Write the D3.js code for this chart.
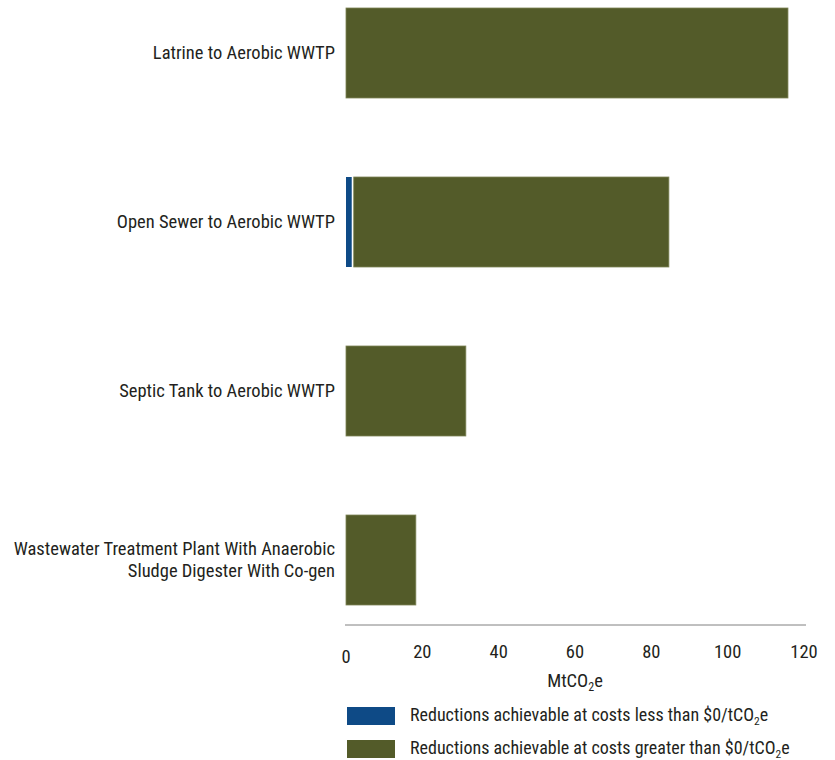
<!DOCTYPE html>
<html><head><meta charset="utf-8">
<script src="https://cdn.jsdelivr.net/npm/d3@7"></script>
<style>body{margin:0;background:#fff}text{font-family:"Liberation Sans Narrow","Roboto Condensed","DejaVu Sans Condensed",sans-serif;fill:#231f20}</style>
</head><body><svg id="c" width="835" height="760"></svg>
<script>
const categories = [["Latrine to Aerobic WWTP"],["Open Sewer to Aerobic WWTP"],["Septic Tank to Aerobic WWTP"],["Wastewater Treatment Plant With Anaerobic","Sludge Digester With Co-gen"]];
const lessThanZero = [0, 1.5, 0, 0];
const greaterThanZero = [115.8, 83.1, 31.4, 18.3];
const ticks = [0,20,40,60,80,100,120];
const legendLabels = ["Reductions achievable at costs less than $0/tCO","Reductions achievable at costs greater than $0/tCO"];
const colors = ["#0e4a86","#535b29"];

const svg = d3.select("#c");
const x = d3.scaleLinear().domain([0,120]).range([346,804]);
const y = d3.scaleBand().domain(d3.range(categories.length)).range([8,605]).paddingInner(0.4675).paddingOuter(0);

const g = svg.append("g");
categories.forEach((c,i)=>{
  const y0 = y(i), h = y.bandwidth();
  if (lessThanZero[i] > 0) {
    g.append("rect").attr("x",x(0)).attr("y",y0).attr("width",x(lessThanZero[i])-x(0)).attr("height",h).attr("fill",colors[0]);
  }
  const s = lessThanZero[i] > 0 ? x(lessThanZero[i]) + 2 : x(0);
  g.append("rect").attr("x",s).attr("y",y0).attr("width",x(lessThanZero[i]+greaterThanZero[i])-s).attr("height",h)
    .attr("fill",colors[1]).attr("stroke","#7d8356").attr("stroke-width",0.8);
  const t = g.append("text").attr("text-anchor","end").attr("font-size",18.5);
  const cy = y0 + h/2;
  c.forEach((line,j)=>{
    t.append("tspan").attr("x",335).attr("y",cy + (j-(c.length-1)/2)*22 + 6).text(line);
  });
});

// axis
const axisY = 625;
svg.append("line").attr("x1",345).attr("x2",806).attr("y1",axisY).attr("y2",axisY).attr("stroke","#808080").attr("stroke-width",1);
svg.selectAll(".tk").data(ticks).enter().append("text").attr("class","tk")
  .attr("x",d=>x(d)).attr("y",d=>d===0?663:658).attr("text-anchor","middle").attr("font-size",18.5).text(d=>d);
const xl = svg.append("text").attr("x",575).attr("y",687).attr("text-anchor","middle").attr("font-size",18.5);
xl.append("tspan").text("MtCO");
xl.append("tspan").attr("font-size",12).attr("dy",4).text("2");
xl.append("tspan").attr("dy",-4).text("e");

// legend
legendLabels.forEach((l,i)=>{
  const ly = 707 + i*33;
  svg.append("rect").attr("x",347).attr("y",ly).attr("width",48).attr("height",18).attr("fill",colors[i]);
  const t = svg.append("text").attr("x",410).attr("y",ly+14).attr("font-size",18);
  t.append("tspan").text(l);
  t.append("tspan").attr("font-size",11.5).attr("dy",4).text("2");
  t.append("tspan").attr("dy",-4).text("e");
});
</script></body></html>
